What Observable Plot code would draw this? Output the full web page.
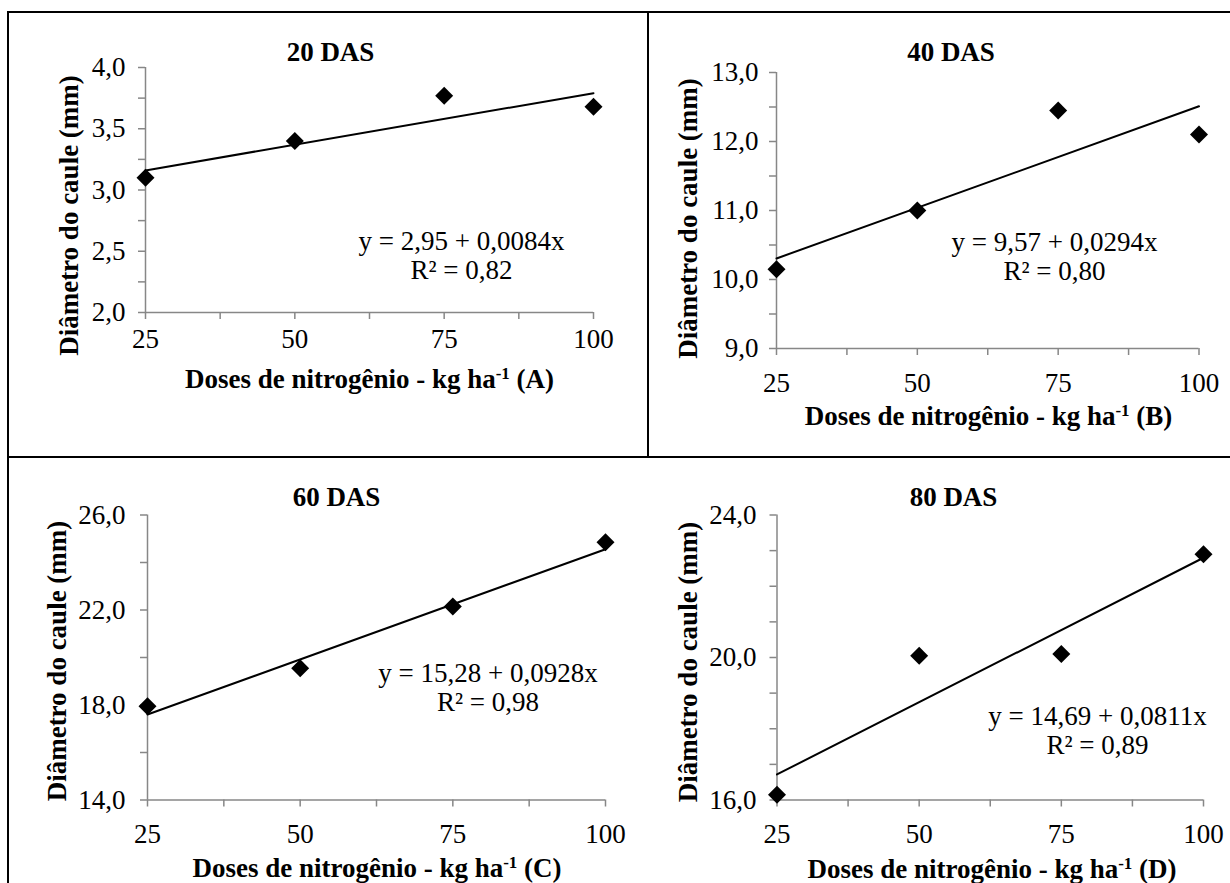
<!DOCTYPE html>
<html>
<head>
<meta charset="utf-8">
<script src="https://cdn.jsdelivr.net/npm/d3@7"></script>
<script src="https://cdn.jsdelivr.net/npm/@observablehq/plot@0.6"></script>
<style>
  html, body { margin: 0; padding: 0; background: #fff; }
  #chart { position: relative; width: 1230px; height: 883px; background: #fff; overflow: hidden; }
  #chart svg { position: absolute; left: 0; top: 0; }
  .rule { position: absolute; background: #000; }
</style>
</head>
<body>
<div id="chart">
  <div class="rule" style="left:7px; top:11px; width:1223px; height:2px;"></div>
  <div class="rule" style="left:7px; top:11px; width:2px; height:872px;"></div>
  <div class="rule" style="left:7px; top:456px; width:1223px; height:2px;"></div>
  <div class="rule" style="left:647px; top:11px; width:2px; height:446px;"></div>
</div>
<script>
// Nitrogen doses (kg/ha) shared by the four sampling dates
const doses = [25, 50, 75, 100];
const doseTicks = [25, 50, 75, 100];
const doseMinorTicks = [37.5, 62.5, 87.5];

// Stem diameter (mm) at each sampling date
const titles = ["20 DAS", "40 DAS", "60 DAS", "80 DAS"];
const panelLetters = ["A", "B", "C", "D"];
const diam20 = [3.10, 3.40, 3.77, 3.68];
const diam40 = [10.15, 11.00, 12.45, 12.10];
const diam60 = [17.95, 19.55, 22.15, 24.85];
const diam80 = [16.15, 20.05, 20.10, 22.90];

// Linear fits: intercept, slope, R²
const fit20 = [2.95, 0.0084, 0.82];
const fit40 = [9.57, 0.0294, 0.80];
const fit60 = [15.28, 0.0928, 0.98];
const fit80 = [14.69, 0.0811, 0.89];

// Y-axis ticks (labelled and minor)
const yTicks20 = [2.0, 2.5, 3.0, 3.5, 4.0];
const yMinor20 = [2.25, 2.75, 3.25, 3.75];
const yTicks40 = [9.0, 10.0, 11.0, 12.0, 13.0];
const yMinor40 = [9.5, 10.5, 11.5, 12.5];
const yTicks60 = [14.0, 18.0, 22.0, 26.0];
const yMinor60 = [16.0, 20.0, 24.0];
const yTicks80 = [16.0, 20.0, 24.0];
const yMinor80 = [17.0, 18.0, 19.0, 21.0, 22.0, 23.0];

const yLabel = "Diâmetro do caule (mm)";
const xLabel = "Doses de nitrogênio - kg ha-1";

const W = 1230, H = 883;
const axisGray = "#878787";
const font = "'Liberation Serif', 'Times New Roman', serif";
const comma = (v, n) => v.toFixed(n).replace(".", ",");

// Frame boxes and text offsets for the 2x2 layout
const panels = [
  {values: diam20, fit: fit20, ticks: yTicks20, minor: yMinor20,
   frame: {left: 145, top: 67, right: 593, bottom: 312},
   xPad: 9, yPad: 13, title: [185, -15], eq: [316, 188], ylab: [-76, 148], xlab: [224, 312]},
  {values: diam40, fit: fit40, ticks: yTicks40, minor: yMinor40,
   frame: {left: 776, top: 72, right: 1198.5, bottom: 348},
   xPad: 17, yPad: 11, title: [174.5, -20], eq: [278, 184], ylab: [-88.5, 146], xlab: [212, 343.5]},
  {values: diam60, fit: fit60, ticks: yTicks60, minor: yMinor60,
   frame: {left: 147, top: 514.5, right: 605, bottom: 799.5},
   xPad: 17, yPad: 15, title: [189, -17.5], eq: [340.5, 172], ylab: [-90, 146], xlab: [229.5, 353]},
  {values: diam80, fit: fit80, ticks: yTicks80, minor: yMinor80,
   frame: {left: 776.5, top: 514.5, right: 1203, bottom: 799.5},
   xPad: 17, yPad: 13.5, title: [176.5, -17.5], eq: [320.5, 215], ylab: [-89, 147], xlab: [215, 354.5]}
];

function drawPanel(p, i) {
  const [a, b, r2] = p.fit;
  const pts = doses.map((x, k) => ({x, y: p.values[k]}));
  const trend = [doses[0], doses[doses.length - 1]].map(x => ({x, y: a + b * x}));
  const eq = `y = ${comma(a, 2)} + ${comma(b, 4)}x\nR² = ${comma(r2, 2)}`;
  const domain = [p.ticks[0], p.ticks[p.ticks.length - 1]];
  const f = p.frame;
  return Plot.plot({
    width: W, height: H,
    marginLeft: f.left, marginRight: W - f.right,
    marginTop: f.top, marginBottom: H - f.bottom,
    x: {domain: [doses[0], doses[doses.length - 1]]},
    y: {domain},
    style: {fontFamily: font, fontSize: "27px", background: "transparent", overflow: "visible", color: "#000"},
    marks: [
      Plot.ruleX([doses[0]], {stroke: axisGray, strokeWidth: 1.5}),
      Plot.ruleY([domain[0]], {stroke: axisGray, strokeWidth: 1.5}),
      Plot.axisX(doseMinorTicks, {tickSize: 7, stroke: axisGray, strokeWidth: 1.5, tickFormat: () => "", label: null}),
      Plot.axisX(doseTicks, {tickSize: 7, tickPadding: p.xPad, stroke: axisGray, strokeWidth: 1.5, fill: "#000", tickFormat: d => String(d), label: null}),
      Plot.axisY(p.minor, {tickSize: 7, stroke: axisGray, strokeWidth: 1.5, tickFormat: () => "", label: null}),
      Plot.axisY(p.ticks, {tickSize: 7, tickPadding: p.yPad, stroke: axisGray, strokeWidth: 1.5, fill: "#000", tickFormat: d => comma(d, 1), label: null}),
      Plot.line(trend, {x: "x", y: "y", stroke: "#000", strokeWidth: 2}),
      Plot.dot(pts, {x: "x", y: "y", symbol: "diamond2", r: 8.1, fill: "#000", stroke: "none"}),
      Plot.text([titles[i]], {text: d => d, frameAnchor: "top-left", dx: p.title[0], dy: p.title[1], textAnchor: "middle", lineAnchor: "middle", fontWeight: "bold"}),
      Plot.text([eq], {text: d => d, frameAnchor: "top-left", dx: p.eq[0], dy: p.eq[1], textAnchor: "middle", lineAnchor: "middle", lineHeight: 1.07}),
      Plot.text([yLabel], {text: d => d, frameAnchor: "top-left", dx: p.ylab[0], dy: p.ylab[1], rotate: -90, textAnchor: "middle", lineAnchor: "middle", fontWeight: "bold"}),
      Plot.text([`${xLabel} (${panelLetters[i]})`], {text: d => d, frameAnchor: "top-left", dx: p.xlab[0], dy: p.xlab[1], textAnchor: "middle", lineAnchor: "middle", fontWeight: "bold"})
    ]
  });
}

// Raise the "-1" of the unit to a superscript
function superscriptUnit(svg) {
  const ns = "http://www.w3.org/2000/svg";
  for (const t of svg.querySelectorAll("text")) {
    const s = t.textContent;
    const k = s.indexOf("ha-1");
    if (k < 0 || t.querySelector("tspan")) continue;
    t.textContent = "";
    const add = (str, attrs = {}) => {
      const ts = document.createElementNS(ns, "tspan");
      for (const [key, v] of Object.entries(attrs)) ts.setAttribute(key, v);
      ts.textContent = str;
      t.appendChild(ts);
    };
    add(s.slice(0, k + 2));
    add("-1", {dy: "-9", "font-size": "17px"});
    add(s.slice(k + 4), {dy: "9"});
  }
}

const chart = document.getElementById("chart");
panels.forEach((p, i) => {
  const svg = drawPanel(p, i);
  superscriptUnit(svg);
  chart.appendChild(svg);
});
</script>
</body>
</html>
